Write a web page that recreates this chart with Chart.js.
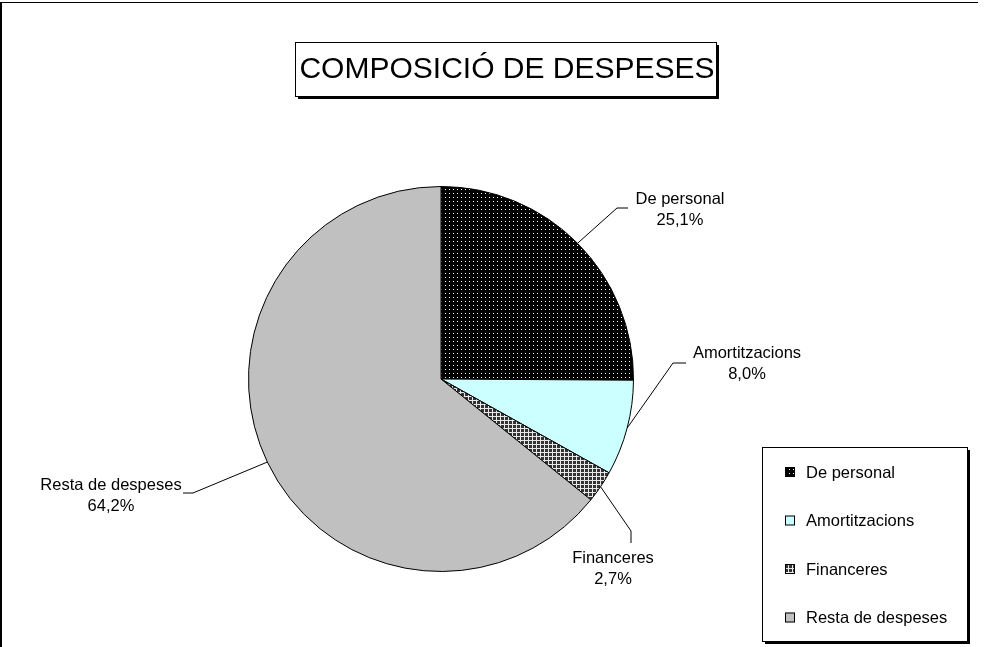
<!DOCTYPE html>
<html lang="ca">
<head>
    <meta charset="UTF-8">
    <script src="https://cdn.jsdelivr.net/npm/chart.js"></script>
    <title>Composició de despeses</title>
<style>
    html, body { margin: 0; padding: 0; background: #fff; }
    #wrap { width: 987px; height: 647px; }
</style>
</head>
<body>
    <div id="wrap"><canvas id="pie" width="987" height="647"></canvas></div>
<script>
// data
var categories = ['De personal', 'Amortitzacions', 'Financeres', 'Resta de despeses'];
var shares = [25.1, 8.0, 2.7, 64.2];
var chartTitle = 'COMPOSICIÓ DE DESPESES';

var FONT = '"Liberation Sans", Arial, sans-serif';

// fill patterns like the old excel ones
function dotPattern() {
    var c = document.createElement('canvas');
    c.width = 4; c.height = 4;
    var g = c.getContext('2d');
    g.fillStyle = '#000';
    g.fillRect(0, 0, 4, 4);
    g.fillStyle = '#fff';
    g.fillRect(1, 1, 1, 1);
    return g.createPattern(c, 'repeat');
}
function gridPattern() {
    var c = document.createElement('canvas');
    c.width = 4; c.height = 4;
    var g = c.getContext('2d');
    g.fillStyle = '#e8e8e8';
    g.fillRect(0, 0, 4, 4);
    g.fillStyle = '#333';
    g.fillRect(1, 1, 3, 3);
    return g.createPattern(c, 'repeat');
}
var fills = [dotPattern(), '#ccffff', gridPattern(), '#c0c0c0'];

// where the slice labels sit (text centre + elbow of the leader line)
var labelPos = [
    { x: 680, y: 199, ex: 617, ey: 208, tx: 628, ty: 208 },
    { x: 747, y: 353, ex: 673, ey: 363, tx: 686, ty: 363 },
    { x: 613, y: 558, ex: 631, ey: 531, tx: 631, ty: 543 },
    { x: 111, y: 485, ex: 193, ey: 493, tx: 183, ty: 493 }
];

function fmtPct(v) {
    return v.toFixed(1).replace('.', ',') + '%';
}

function shadowBox(ctx, x, y, w, h) {
    ctx.fillStyle = '#000';
    ctx.fillRect(x + 3, y + 3, w, h);
    ctx.fillStyle = '#fff';
    ctx.fillRect(x, y, w, h);
    ctx.strokeStyle = '#000';
    ctx.lineWidth = 1;
    ctx.strokeRect(x + 0.5, y + 0.5, w, h);
}

var extras = {
    id: 'extras',
    afterDraw: function (chart) {
        var ctx = chart.ctx;
        ctx.save();

        // outer frame (top + left only, rest is cropped)
        ctx.fillStyle = '#000';
        ctx.fillRect(0, 2, 978, 1);
        ctx.fillRect(0, 2, 2, 645);

        // title box
        shadowBox(ctx, 295, 42, 421, 54);
        ctx.fillStyle = '#000';
        ctx.font = '30px ' + FONT;
        ctx.textAlign = 'center';
        ctx.textBaseline = 'middle';
        ctx.fillText(chartTitle, 507, 70);

        // slice labels with leader lines
        var arcs = chart.getDatasetMeta(0).data;
        ctx.font = '16.5px ' + FONT;
        ctx.lineWidth = 1;
        ctx.strokeStyle = '#000';
        arcs.forEach(function (arc, i) {
            var p = labelPos[i];
            var mid = (arc.startAngle + arc.endAngle) / 2;
            var sx = arc.x + Math.cos(mid) * arc.outerRadius;
            var sy = arc.y + Math.sin(mid) * arc.outerRadius;
            ctx.beginPath();
            ctx.moveTo(sx, sy);
            ctx.lineTo(p.ex, p.ey);
            ctx.lineTo(p.tx, p.ty);
            ctx.stroke();
            ctx.fillStyle = '#000';
            ctx.fillText(chart.data.labels[i], p.x, p.y);
            ctx.fillText(fmtPct(shares[i]), p.x, p.y + 21);
        });

        // legend
        shadowBox(ctx, 762, 447, 205, 194);
        ctx.textAlign = 'left';
        chart.data.labels.forEach(function (lab, i) {
            var y = 472 + i * 48.5;
            ctx.fillStyle = fills[i];
            ctx.fillRect(785, y - 5, 10, 10);
            ctx.strokeStyle = '#000';
            ctx.strokeRect(785.5, y - 4.5, 9, 9);
            ctx.fillStyle = '#000';
            ctx.fillText(lab, 806, y + 1);
        });

        ctx.restore();
    }
};

new Chart(document.getElementById('pie').getContext('2d'), {
    type: 'pie',
    data: {
        labels: categories,
        datasets: [{
            data: shares,
            backgroundColor: fills,
            borderColor: '#000',
            borderWidth: 1
        }]
    },
    options: {
        responsive: false,
        animation: false,
        layout: { padding: { left: 248, right: 353, top: 186, bottom: 75 } },
        plugins: {
            legend: { display: false },
            title: { display: false },
            tooltip: { enabled: false }
        }
    },
    plugins: [extras]
});
</script>
</body>
</html>
